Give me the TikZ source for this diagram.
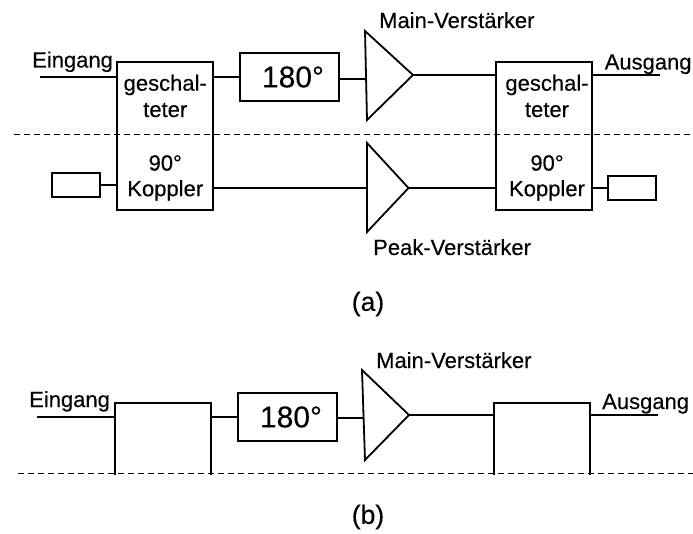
\documentclass[tikz,border=0pt]{standalone}
\usepackage{fontspec}
\setmainfont[FakeBold=0.25]{Liberation Sans}
\usetikzlibrary{positioning, calc}
\definecolor{c1}{HTML}{000000}

\begin{document}
\begin{tikzpicture}[
    x=1pt, y=-1pt,
    every node/.style={font=\fontsize{22}{24}\selectfont, text=c1, inner sep=0pt},
    big/.style={font=\fontsize{30}{32}\selectfont},
    partlab/.style={font=\fontsize{26.5}{28}\selectfont},
    wire/.style={line width=1.8pt, color=c1},
    sep/.style={line width=0.9pt, color=c1, dash pattern=on 6pt off 4pt},
    koppler/.style={rectangle, draw=c1, line width=1.8pt, minimum width=96pt, minimum height=148pt},
    phase/.style={rectangle, draw=c1, line width=1.8pt, minimum width=99pt, minimum height=48pt, big},
    load/.style={rectangle, draw=c1, line width=1.8pt, minimum width=48pt, minimum height=24pt},
]
\useasboundingbox (0,0) rectangle (693,534);

% ---------------- part a: separators and boxes
\coordinate (sepAl) at (14,134.5);
\coordinate (sepAr) at (693,134.5);
\draw[sep] (sepAl) -- (sepAr);
\node[koppler] (inA) at (165,136) {};
\node[koppler] (outA) at (544,136) {};
\node[phase] (phaseA) at (289.5,77) {\hspace*{7pt}180°};
\node[load] (loadL) at (76,185) {};
\node[load] (loadR) at (632,188) {};

\foreach \n/\xx in {inA/165.25, outA/547}{
    \node (\n g) at (\xx,85) {geschal-};
    \node (\n t) at (\xx,110) {teter};
    \node (\n n) at (\xx,163) {90°};
    \node (\n k) at (\xx,190.5) {Koppler};
}

% ---------------- part a: amplifiers
\coordinate (mainAt) at (365,31);
\coordinate (mainAb) at (367,120);
\coordinate (mainAo) at (413,75);
\coordinate (mainAi) at (366,79);
\draw[wire, line join=miter] (mainAt) -- (mainAo) -- (mainAb) -- cycle;
\coordinate (peakt) at (367,143);
\coordinate (peakb) at (367,232);
\coordinate (peako) at (408.5,188);
\coordinate (peaki) at (367,188);
\draw[wire, line join=miter] (peakt) -- (peako) -- (peakb) -- cycle;

% ---------------- part a: wires
\coordinate (einA) at (40,77);
\coordinate (ausA) at (660,75);
\draw[wire] (einA) -- (einA -| inA.west);
\draw[wire] (inA.east |- phaseA.west) -- (phaseA.west);
\draw[wire] (phaseA.east |- mainAi) -- (mainAi);
\draw[wire] (mainAo) -- (mainAo -| outA.west);
\draw[wire] (ausA -| outA.east) -- (ausA);
\draw[wire] (loadL.east) -- (loadL.east -| inA.west);
\draw[wire] (peaki -| inA.east) -- (peaki);
\draw[wire] (peako) -- (peako -| outA.west);
\draw[wire] (outA.east |- loadR.west) -- (loadR.west);

% ---------------- part a: labels
\node[anchor=base west] (einAl) at (32,67.5) {Eingang};
\node[anchor=base west] (ausAl) at (604.5,69.5) {Ausgang};
\node[anchor=base west] (mainAl) at (379,28) {Main-Verstärker};
\node[anchor=base west] (peakl) at (373,255) {Peak-Verstärker};
\node[partlab] (capA) at (368,304) {(a)};

% ---------------- part b: separators and boxes
\coordinate (sepBl) at (18,473);
\coordinate (sepBr) at (693,473);
\draw[sep] (sepBl) -- (sepBr);
\coordinate (inBa) at (115,475);
\coordinate (inBb) at (115,403);
\coordinate (inBc) at (211,403);
\coordinate (inBd) at (211,475);
\draw[wire] (inBa) -- (inBb) -- (inBc) -- (inBd);
\coordinate (outBa) at (494,475);
\coordinate (outBb) at (494,403);
\coordinate (outBc) at (590,403);
\coordinate (outBd) at (590,475);
\draw[wire] (outBa) -- (outBb) -- (outBc) -- (outBd);
\node[phase] (phaseB) at (287.5,417) {\hspace*{7pt}180°};

% ---------------- part b: amplifier
\coordinate (mainBt) at (362,370);
\coordinate (mainBb) at (365,460);
\coordinate (mainBo) at (409,415);
\coordinate (mainBi) at (363,418);
\draw[wire, line join=miter] (mainBt) -- (mainBo) -- (mainBb) -- cycle;

% ---------------- part b: wires
\coordinate (einB) at (37,417);
\coordinate (ausB) at (658,415);
\draw[wire] (einB) -- (einB -| inBa);
\draw[wire] (inBd |- phaseB.west) -- (phaseB.west);
\draw[wire] (phaseB.east |- mainBi) -- (mainBi);
\draw[wire] (mainBo) -- (mainBo -| outBa);
\draw[wire] (ausB -| outBd) -- (ausB);

% ---------------- part b: labels
\node[anchor=base west] (einBl) at (29,407) {Eingang};
\node[anchor=base west] (ausBl) at (602,409) {Ausgang};
\node[anchor=base west] (mainBl) at (376,368) {Main-Verstärker};
\node[partlab] (capB) at (368,517) {(b)};
\end{tikzpicture}
\end{document}
